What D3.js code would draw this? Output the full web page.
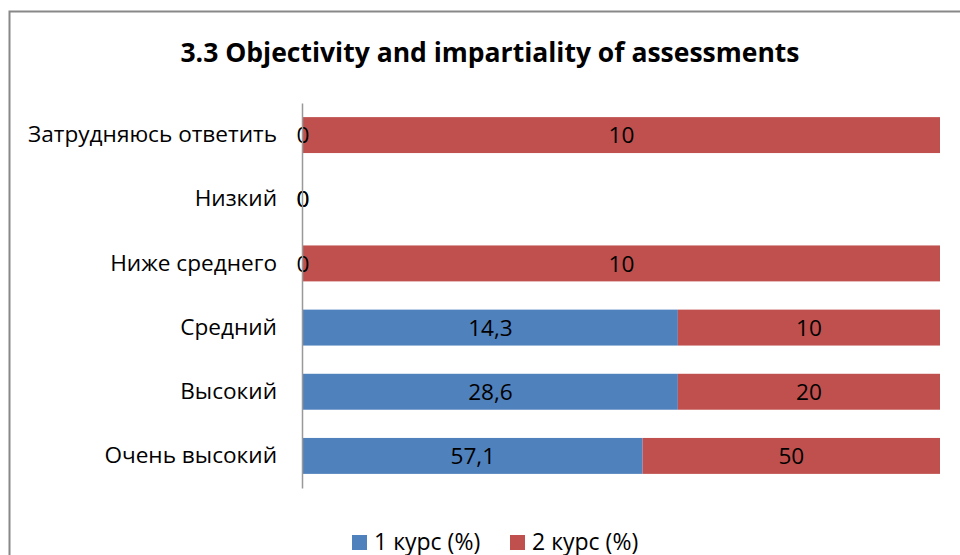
<!DOCTYPE html>
<html><head><meta charset="utf-8">
<script src="https://cdn.jsdelivr.net/npm/d3@7"></script>
<style>body{margin:0;background:#fff}svg{display:block}text{font-family:"Open Sans","Noto Sans",sans-serif}</style>
</head><body><svg id="c" width="960" height="555"></svg>
<script>
const categories = ["Затрудняюсь ответить","Низкий","Ниже среднего","Средний","Высокий","Очень высокий"];
const series1 = [0, 0, 0, 14.3, 28.6, 57.1];
const series2 = [10, 0, 10, 10, 20, 50];
const seriesNames = ["1 курс (%)","2 курс (%)"];
const colors = ["#4f81bd","#c0504d"];
const title = "3.3 Objectivity and impartiality of assessments";

const svg = d3.select("#c");
svg.append("rect").attr("x",9.5).attr("y",11.5).attr("width",1000).attr("height",600)
  .attr("fill","#fff").attr("stroke","#888").attr("stroke-width",2);

const fmt = v => String(v).replace(".", ",");
const y = d3.scaleBand().domain(categories).range([103,488]).paddingInner(0.44).paddingOuter(0.22);
const x = d3.scaleLinear().domain([0,1]).range([303,940]);

const rows = categories.map((c,i)=>{
  const tot = series1[i]+series2[i];
  const a = tot ? series1[i]/tot : 0, b = tot ? series2[i]/tot : 0;
  return {c, segs:[{v:series1[i],x0:0,x1:a,s:0},{v:series2[i],x0:a,x1:a+b,s:1}]};
});

const g = svg.append("g");
rows.forEach(r=>{
  r.segs.forEach(s=>{
    if (s.x1> s.x0) g.append("rect").attr("x",x(s.x0)).attr("y",y(r.c)).attr("width",x(s.x1)-x(s.x0))
      .attr("height",y.bandwidth()).attr("fill",colors[s.s]);
  });
});
const ax = svg.append("g").attr("transform","translate(302,0)").call(d3.axisLeft(y).tickSize(0).tickPadding(25));
ax.select(".domain").attr("stroke","#999").attr("stroke-width",1.5);
ax.selectAll("text").attr("font-size",22.6).attr("fill","#000").style("font-family","'Open Sans',sans-serif");

rows.forEach(r=>{
  r.segs.forEach(s=>{
    g.append("text").attr("x",(x(s.x0)+x(s.x1))/2).attr("y",y(r.c)+y.bandwidth()/2).attr("dy","0.36em")
      .attr("text-anchor","middle").attr("font-size",22.6).attr("fill","#000").text(fmt(s.v));
  });
});

svg.append("text").attr("x",490).attr("y",62).attr("text-anchor","middle").attr("font-size",26.5)
  .attr("font-weight","bold").text(title);

const lx = [352, 510];
seriesNames.forEach((n,i)=>{
  svg.append("rect").attr("x",lx[i]).attr("y",535).attr("width",15).attr("height",15).attr("fill",colors[i]);
  svg.append("text").attr("x",lx[i]+22).attr("y",550).attr("font-size",23).text(n);
});
</script></body></html>
